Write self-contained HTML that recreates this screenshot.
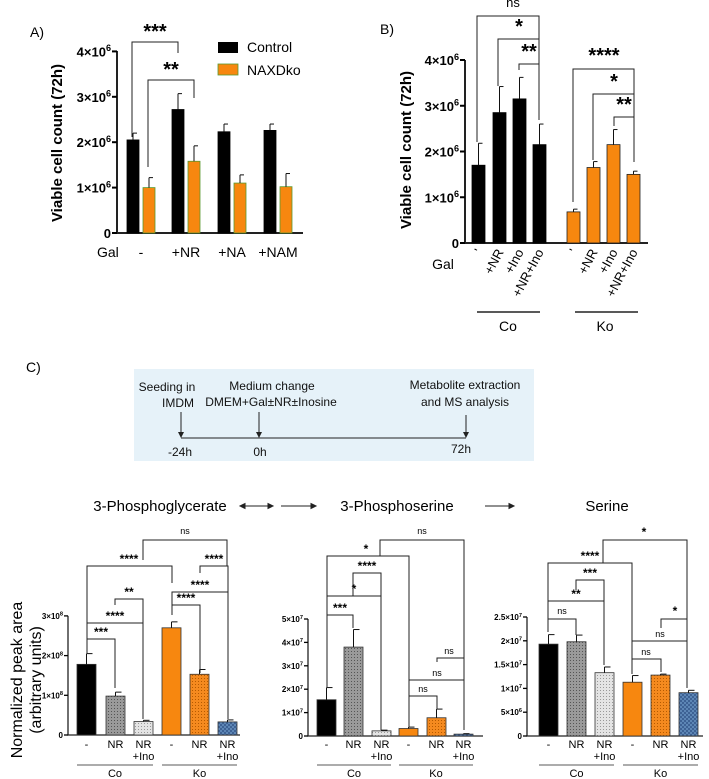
<!DOCTYPE html>
<html><head><meta charset="utf-8"><style>
html,body{margin:0;padding:0;background:#fff;}
svg{display:block;font-family:"Liberation Sans",sans-serif;}
.nar{font-family:"Liberation Sans Narrow","Liberation Sans",sans-serif;}
</style></head><body>
<svg id="fig" width="709" height="779" viewBox="0 0 709 779" xmlns="http://www.w3.org/2000/svg">
<defs>
<pattern id="pGrey" width="3" height="3" patternUnits="userSpaceOnUse"><rect width="3" height="3" fill="#9a9a9a"/><rect width="1" height="1" fill="#555"/></pattern>
<pattern id="pLight" width="3" height="3" patternUnits="userSpaceOnUse"><rect width="3" height="3" fill="#e4e4e4"/><rect width="1" height="1" fill="#999"/></pattern>
<pattern id="pOrange" width="3" height="3" patternUnits="userSpaceOnUse"><rect width="3" height="3" fill="#f58a1f"/><rect width="1" height="1" fill="#b55a00"/></pattern>
<pattern id="pBlue" width="4" height="4" patternUnits="userSpaceOnUse"><rect width="4" height="4" fill="#5d86b5"/><rect width="2" height="2" fill="#3e6294"/><rect x="2" y="2" width="2" height="2" fill="#3e6294"/></pattern>
</defs>
<g id="root"></g>
<!-- panel labels -->
<text x="30" y="37" font-size="14">A)</text>
<text x="380" y="34" font-size="14">B)</text>
<text x="26" y="372" font-size="14">C)</text>
<!-- legend A -->
<rect x="218" y="42" width="20" height="11" fill="#000"/>
<text x="247" y="52" font-size="14">Control</text>
<rect x="218" y="64" width="20" height="11" fill="#f7870f" stroke="#5a9a30" stroke-width="0.8"/>
<text x="247" y="75" font-size="14">NAXDko</text>
<!-- timeline box -->
<g>
<rect x="134" y="369" width="400" height="92" fill="#e6f2f9"/>
<line x1="181" y1="438" x2="466" y2="438" stroke="#222" stroke-width="1"/>
<line x1="181" y1="412" x2="181" y2="436" stroke="#222"/><path d="M178,432 L181,438 L184,432Z" fill="#222"/>
<line x1="259" y1="412" x2="259" y2="436" stroke="#222"/><path d="M256,432 L259,438 L262,432Z" fill="#222"/>
<line x1="466" y1="415" x2="466" y2="436" stroke="#222"/><path d="M463,432 L466,438 L469,432Z" fill="#222"/>
<g class="nar" font-size="12" text-anchor="middle" fill="#111">
<text x="167" y="391">Seeding in</text><text x="178" y="407">IMDM</text>
<text x="272" y="390">Medium change</text><text x="271" y="406">DMEM+Gal±NR±Inosine</text>
<text x="465" y="389">Metabolite extraction</text><text x="465" y="406">and MS analysis</text>
<text x="180" y="456">-24h</text><text x="260" y="456">0h</text><text x="461" y="453">72h</text>
</g></g>
<g class="nar" font-size="15" text-anchor="middle">
<text x="160" y="511">3-Phosphoglycerate</text>
<text x="397" y="511">3-Phosphoserine</text>
<text x="607" y="511">Serine</text>
</g>
<g stroke="#222" stroke-width="1" fill="#222">
<line x1="241" y1="506" x2="272" y2="506"/><path d="M240,506 l5,-2.5 v5Z M273,506 l-5,-2.5 v5Z"/>
<line x1="281" y1="506" x2="312" y2="506"/><path d="M316,506 l-5,-2.5 v5Z"/>
<line x1="485" y1="506" x2="510" y2="506"/><path d="M514,506 l-5,-2.5 v5Z"/>
</g>
</svg>
<script>
// ---------- DATA ----------
const aGroups = ["-", "+NR", "+NA", "+NAM"];
const aControl = [2.05, 2.72, 2.23, 2.26];
const aControlErr = [2.2, 3.07, 2.4, 2.4];
const aKo = [1.0, 1.58, 1.1, 1.02];
const aKoErr = [1.22, 1.92, 1.28, 1.31];
const aTicks = [0, 1, 2, 3, 4];

const bGroups = ["-", "+NR", "+Ino", "+NR+Ino"];
const bCo = [1.7, 2.85, 3.15, 2.15];
const bCoErr = [2.18, 3.42, 3.62, 2.6];
const bKo = [0.68, 1.65, 2.15, 1.5];
const bKoErr = [0.74, 1.78, 2.48, 1.57];
const bTicks = [0, 1, 2, 3, 4];

const cConds = ["-", "NR", "NR+Ino", "-", "NR", "NR+Ino"];
const pgVals = [1.78, 0.98, 0.34, 2.7, 1.53, 0.33];
const pgErr = [2.05, 1.08, 0.37, 2.85, 1.65, 0.38];
const pgTicks = [0, 1, 2, 3];
const psVals = [1.55, 3.8, 0.22, 0.32, 0.78, 0.08];
const psErr = [2.07, 4.55, 0.25, 0.38, 1.15, 0.1];
const psTicks = [0, 1, 2, 3, 4, 5];
const serVals = [1.93, 1.98, 1.33, 1.13, 1.28, 0.91];
const serErr = [2.13, 2.12, 1.45, 1.27, 1.3, 0.96];
const serTicks = [0, 0.5, 1, 1.5, 2, 2.5];

// ---------- HELPERS ----------
const NS = "http://www.w3.org/2000/svg";
const root = document.getElementById("root");
function mk(tag, attrs, parent) {
  const e = document.createElementNS(NS, tag);
  for (const k in attrs) e.setAttribute(k, attrs[k]);
  (parent || root).appendChild(e);
  return e;
}
function bar(x, w, y0, yv, fill, stroke, name) {
  const r = mk("rect", {x: x, y: yv, width: w, height: y0 - yv, fill: fill, stroke: stroke, "stroke-width": 0.8});
  
  
  return r;
}
function err(cx, yTop, yErr, cap, name) {
  const g = mk("g", {stroke: "#111", "stroke-width": 1});
  
  
  mk("line", {x1: cx, y1: yTop, x2: cx, y2: yErr}, g);
  mk("line", {x1: cx, y1: yErr, x2: cx + cap, y2: yErr}, g);
  return g;
}
function txt(x, y, s, size, anchor, extra) {
  const t = mk("text", Object.assign({x: x, y: y, "font-size": size, "text-anchor": anchor || "start"}, extra || {}));
  t.textContent = s;
  return t;
}
function sciLabel(x, y, mant, exp, size, weight, name) {
  const t = mk("text", {x: x, y: y, "font-size": size, "text-anchor": "end", "font-weight": weight});
  
  
  if (exp === null) { t.textContent = mant; return t; }
  const a = document.createElementNS(NS, "tspan"); a.textContent = mant + "×10"; t.appendChild(a);
  const b = document.createElementNS(NS, "tspan"); b.setAttribute("dy", -size * 0.4); b.setAttribute("font-size", size * 0.7); b.textContent = exp; t.appendChild(b);
  return t;
}
function path(d, name, sw) {
  const p = mk("path", {d: d, fill: "none", stroke: "#222", "stroke-width": sw || 1});
  
  
  return p;
}
function bracket(x1, y1b, x2, y2b, top, label, lx, ly, size, name) {
  path(`M${x1},${y1b} V${top} H${x2} V${y2b}`, name, 1);
  const t = txt(lx, ly, label, size, "middle", {"font-weight": label === "ns" ? "normal" : "bold"});
  
  
}

// ---------- PANEL A ----------
const aY = v => 233 - v * 45.4;
const aX = [127, 172, 218, 264];
path("M117,51 V233 H303", "a-axes", 2);
aTicks.forEach(t => {
  mk("line", {x1: 112, y1: aY(t), x2: 117, y2: aY(t), stroke: "#000", "stroke-width": 2});
  sciLabel(111, aY(t) + 5, t === 0 ? "0" : String(t), t === 0 ? null : "6", 13, "bold", "a-y-tick");
});
aGroups.forEach((g, i) => {
  bar(aX[i], 12, 233, aY(aControl[i]), "#000", "#000", "a-bar-control-" + i);
  err(aX[i] + 6, aY(aControl[i]), aY(aControlErr[i]), 4, "a-err-control-" + i);
  bar(aX[i] + 16, 12, 233, aY(aKo[i]), "#f7870f", "#5a9a30", "a-bar-naxdko-" + i);
  err(aX[i] + 22, aY(aKo[i]), aY(aKoErr[i]), 4, "a-err-naxdko-" + i);
  const l = txt(aX[i] + 14, 257, g, 14, "middle");
  
  
});
txt(97, 257, "Gal", 14, "start");
const aTitle = txt(0, 0, "Viable cell count (72h)", 15, "middle", {"font-weight": "bold", transform: "translate(62,143) rotate(-90)"});


bracket(132, 137, 178, 53, 42, "***", 155, 38, 20, "a-sig-1");
bracket(148, 167, 194, 98, 80, "**", 171, 76, 20, "a-sig-2");

// ---------- PANEL B ----------
const bY = v => 243 - v * 45.75;
const bXCo = [472, 493, 513, 533];
const bXKo = [567, 587, 607, 627];
path("M465,60 V243 H648", "b-axes", 2);
bTicks.forEach(t => {
  mk("line", {x1: 460, y1: bY(t), x2: 465, y2: bY(t), stroke: "#000", "stroke-width": 2});
  sciLabel(459, bY(t) + 5, t === 0 ? "0" : String(t), t === 0 ? null : "6", 13, "bold", "b-y-tick");
});
bGroups.forEach((g, i) => {
  bar(bXCo[i], 13, 243, bY(bCo[i]), "#000", "#000", "b-bar-co-" + i);
  err(bXCo[i] + 6.5, bY(bCo[i]), bY(bCoErr[i]), 4, "b-err-co-" + i);
  bar(bXKo[i], 13, 243, bY(bKo[i]), "#f7870f", "#222", "b-bar-ko-" + i);
  err(bXKo[i] + 6.5, bY(bKo[i]), bY(bKoErr[i]), 4, "b-err-ko-" + i);
  [bXCo[i], bXKo[i]].forEach(x => {
    const l = txt(0, 0, g === "-" ? "'" : g, 13, "end", {transform: `translate(${x + 11},252) rotate(-62)`});
    
    
  });
});
txt(443, 269, "Gal", 14, "middle");
path("M477,312 H540", "b-co-underline", 1.5);
path("M575,312 H638", "b-ko-underline", 1.5);
txt(508, 331, "Co", 14, "middle");
txt(605, 331, "Ko", 14, "middle");
const bTitle = txt(0, 0, "Viable cell count (72h)", 15, "middle", {"font-weight": "bold", transform: "translate(411,150) rotate(-90)"});


bracket(477, 142, 539, 120, 16, "ns", 513, 7, 13, "b-sig-ns");
bracket(498, 86, 539, 86, 39, "*", 519, 33, 20, "b-sig-1");
bracket(519, 70, 539, 70, 64, "**", 529, 58, 20, "b-sig-2");
bracket(573, 202, 634, 162, 69, "****", 604, 62, 20, "b-sig-3");
bracket(593, 160, 634, 160, 94, "*", 614, 88, 20, "b-sig-4");
bracket(614, 126, 634, 126, 117, "**", 624, 111, 20, "b-sig-5");

// ---------- PANEL C charts ----------
const cFills = ["#000", "url(#pGrey)", "url(#pLight)", "#f7870f", "url(#pOrange)", "url(#pBlue)"];
function cChart(prefix, axX, axEnd, y0, scale, xs, vals, errs, ticks, tickFmt, topTick) {
  const Y = v => y0 - v * scale;
  path(`M${axX},${Y(topTick)} V${y0} H${axEnd}`, prefix + "-axes", 1.3);
  ticks.forEach(t => {
    mk("line", {x1: axX - 4, y1: Y(t), x2: axX, y2: Y(t), stroke: "#000", "stroke-width": 1.3});
    const f = tickFmt(t);
    sciLabel(axX - 5, Y(t) + 3, f[0], f[1], 8, "bold", prefix + "-y-tick");
  });
  xs.forEach((x, i) => {
    bar(x, 19, y0, Y(vals[i]), cFills[i], "#333", prefix + "-bar-" + i);
    err(x + 9.5, Y(vals[i]), Y(errs[i]), 6, prefix + "-err-" + i);
    const c = cConds[i];
    const lx = x + 9.5;
    if (c === "NR+Ino") {
      txt(lx, 748, "NR", 11, "middle");
      txt(lx, 760, "+Ino", 11, "middle");
    } else {
      txt(lx, 748, c, 11, "middle");
    }
  });
  path(`M${xs[0]},765 H${xs[2] + 19}`, prefix + "-co-underline", 0.8);
  path(`M${xs[3]},765 H${xs[5] + 19}`, prefix + "-ko-underline", 0.8);
  txt((xs[0] + xs[2] + 19) / 2, 777, "Co", 11, "middle");
  txt((xs[3] + xs[5] + 19) / 2, 777, "Ko", 11, "middle");
}
cChart("pg", 68, 240, 735, 39.7, [77, 106, 134, 162, 190, 218], pgVals, pgErr, pgTicks,
  t => t === 0 ? ["0", null] : [String(t), "8"], 3);
cChart("ps", 308, 483, 736, 23.4, [317, 344, 372, 399, 427, 454], psVals, psErr, psTicks,
  t => t === 0 ? ["0", null] : [String(t), "7"], 5);
cChart("ser", 527, 703, 736, 47.6, [539, 567, 595, 623, 651, 679], serVals, serErr, serTicks,
  t => t === 0 ? ["0", null] : (t === 0.5 ? ["5", "6"] : [String(t), "7"]), 2.5);

const cTitle = txt(0, 0, "Normalized peak area", 16, "middle", {transform: "translate(22,680) rotate(-90)"});


const cTitle2 = txt(0, 0, "(arbitrary units)", 16, "middle", {transform: "translate(41,680) rotate(-90)"});



// brackets chart 1
bracket(87, 654, 115, 688, 639, "***", 101, 636, 12, "pg-sig-1");
bracket(87, 639, 143, 719, 623, "****", 115, 620, 12, "pg-sig-2");
bracket(115, 605, 143, 623, 599, "**", 129, 596, 12, "pg-sig-3");
bracket(87, 623, 172, 583, 566, "****", 129, 563, 12, "pg-sig-4");
bracket(172, 615, 200, 673, 605, "****", 186, 602, 12, "pg-sig-5");
bracket(172, 605, 228, 719, 592, "****", 200, 589, 12, "pg-sig-6");
bracket(200, 573, 228, 592, 566, "****", 214, 563, 12, "pg-sig-7");
bracket(143, 560, 227, 566, 540, "ns", 185, 534, 9, "pg-sig-ns");
// brackets chart 2
bracket(327, 688, 353, 628, 615, "***", 340, 612, 12, "ps-sig-1");
bracket(327, 615, 381, 730, 596, "*", 354, 593, 12, "ps-sig-2");
bracket(353, 596, 381, 596, 573, "****", 367, 570, 12, "ps-sig-3");
bracket(327, 596, 409, 727, 556, "*", 366, 553, 12, "ps-sig-4");
bracket(380, 556, 464, 730, 540, "ns", 422, 534, 9, "ps-sig-ns1");
bracket(409, 703, 437, 709, 696, "ns", 423, 692, 9, "ps-sig-ns2");
bracket(409, 696, 464, 680, 680, "ns", 437, 676, 9, "ps-sig-ns3");
bracket(437, 662, 464, 658, 658, "ns", 449, 654, 9, "ps-sig-ns4");
// brackets chart 3
bracket(548, 632, 576, 635, 619, "ns", 562, 614, 9, "ser-sig-ns1");
bracket(548, 619, 604, 665, 601, "**", 576, 598, 12, "ser-sig-1");
bracket(576, 590, 604, 601, 580, "***", 590, 577, 12, "ser-sig-2");
bracket(548, 601, 632, 674, 563, "****", 590, 560, 12, "ser-sig-3");
bracket(603, 563, 687, 688, 540, "*", 644, 536, 12, "ser-sig-4");
bracket(661, 628, 687, 619, 619, "*", 675, 615, 12, "ser-sig-5");
bracket(632, 674, 687, 641, 641, "ns", 660, 637, 9, "ser-sig-ns2");
bracket(632, 674, 661, 672, 659, "ns", 646, 655, 9, "ser-sig-ns3");
</script>
</body></html>
